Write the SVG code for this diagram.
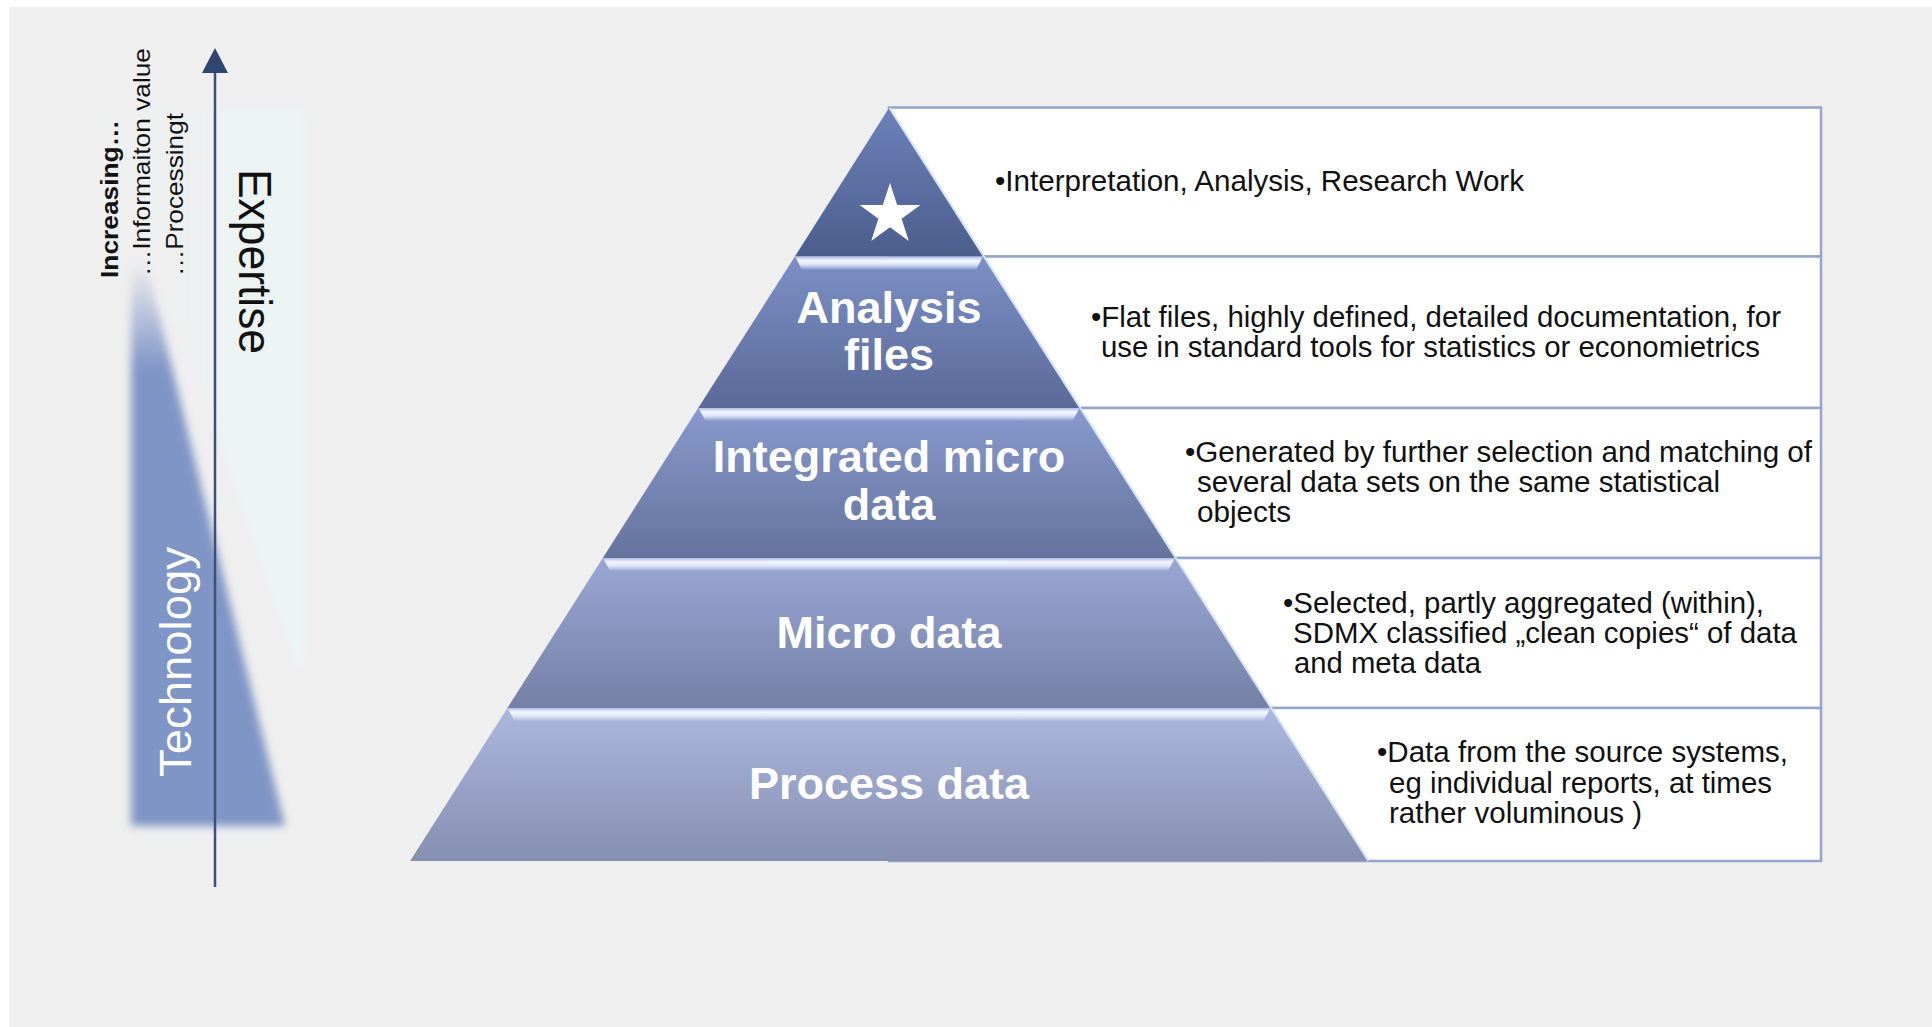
<svg xmlns="http://www.w3.org/2000/svg" width="1932" height="1027" viewBox="0 0 1932 1027">
  <defs>
    <style>
      .t { font-family: "Liberation Sans", Arial, sans-serif; }
      .box { fill: #ffffff; stroke: #93a5cd; stroke-width: 2.5; }
      .btxt { font-family: "Liberation Sans", Arial, sans-serif; font-size: 29px; fill: #111111; }
      .lbl { font-family: "Liberation Sans", Arial, sans-serif; font-size: 45px; font-weight: bold; fill: #ffffff; text-anchor: middle; }
      .side { font-family: "Liberation Sans", Arial, sans-serif; font-size: 24px; fill: #111111; }
    </style>
    <linearGradient id="g1" x1="0" y1="0" x2="0" y2="1"><stop offset="0" stop-color="#6c81ba"/><stop offset="1" stop-color="#4b5e8c"/></linearGradient>
    <linearGradient id="g2" x1="0" y1="0" x2="0" y2="1"><stop offset="0" stop-color="#7c90c6"/><stop offset="1" stop-color="#5a6a98"/></linearGradient>
    <linearGradient id="g3" x1="0" y1="0" x2="0" y2="1"><stop offset="0" stop-color="#8799cd"/><stop offset="1" stop-color="#65749d"/></linearGradient>
    <linearGradient id="g4" x1="0" y1="0" x2="0" y2="1"><stop offset="0" stop-color="#99a7d5"/><stop offset="1" stop-color="#7480a5"/></linearGradient>
    <linearGradient id="g5" x1="0" y1="0" x2="0" y2="1"><stop offset="0" stop-color="#abb7de"/><stop offset="1" stop-color="#858fb0"/></linearGradient>
    <linearGradient id="bev" x1="0" y1="0" x2="0" y2="1">
      <stop offset="0" stop-color="#a9bbe6"/>
      <stop offset="0.3" stop-color="#f3f7ff"/>
      <stop offset="0.55" stop-color="#e1e9fa"/>
      <stop offset="1" stop-color="#ffffff" stop-opacity="0"/>
    </linearGradient>
    <linearGradient id="techFade" gradientUnits="userSpaceOnUse" x1="0" y1="262" x2="0" y2="370">
      <stop offset="0" stop-color="#7f95c6" stop-opacity="0"/>
      <stop offset="1" stop-color="#7f95c6" stop-opacity="1"/>
    </linearGradient>
    <linearGradient id="expFade" gradientUnits="userSpaceOnUse" x1="100" y1="0" x2="216" y2="0">
      <stop offset="0" stop-color="#ebf3f3" stop-opacity="0.2"/>
      <stop offset="0.97" stop-color="#ebf3f3" stop-opacity="0.4"/>
      <stop offset="1" stop-color="#ebf3f3" stop-opacity="1"/>
    </linearGradient>
    <filter id="blur" x="-30%" y="-10%" width="160%" height="120%">
      <feGaussianBlur stdDeviation="4"/>
    </filter>
    <filter id="soft" x="-10%" y="-5%" width="120%" height="110%">
      <feGaussianBlur stdDeviation="2"/>
    </filter>
  </defs>

  <!-- background -->
  <rect x="0" y="0" width="1932" height="1027" fill="#ffffff"/>
  <rect x="9" y="7" width="1923" height="1020" fill="#efefef"/>

  <!-- left side scale -->
  <g id="expertise-band">
    <path d="M104,108 L295,108 Q305,108 305,118 L305,652 Q305,672 296,666 Z" fill="url(#expFade)" filter="url(#soft)"/>
    <text class="t" transform="translate(239,169) rotate(90)" font-size="46" fill="#111111" textLength="185" lengthAdjust="spacingAndGlyphs">Expertise</text>
  </g>

  <g id="technology-band">
    <polygon points="131,230 138,230 285,826 131,826" fill="url(#techFade)" filter="url(#blur)"/>
    <text class="t" transform="translate(191,777) rotate(-90)" font-size="45" fill="#ffffff" textLength="230" lengthAdjust="spacingAndGlyphs">Technology</text>
  </g>

  <g id="increasing-labels">
    <text class="side" font-weight="bold" transform="translate(118,278) rotate(-90)" textLength="158" lengthAdjust="spacingAndGlyphs">Increasing…</text>
    <text class="side" transform="translate(150,276) rotate(-90)" textLength="228" lengthAdjust="spacingAndGlyphs">…Informaiton value</text>
    <text class="side" transform="translate(183,276) rotate(-90)" textLength="163" lengthAdjust="spacingAndGlyphs">…Processingt</text>
  </g>

  <g id="connectors">
    <line x1="215" y1="72" x2="215" y2="887" stroke="#3d5079" stroke-width="2.5"/>
    <polygon points="215,48 202,73 228,73" fill="#2f4670"/>
  </g>

  <!-- description boxes -->
  <g id="box-1">
    <rect class="box" x="889" y="107.5" width="932" height="149"/>
    <text class="btxt" x="995" y="191" textLength="529" lengthAdjust="spacingAndGlyphs">•Interpretation, Analysis, Research Work</text>
  </g>
  <g id="box-2">
    <rect class="box" x="889" y="256.5" width="932" height="151.5"/>
    <text class="btxt" x="1091" y="327" textLength="690" lengthAdjust="spacingAndGlyphs">•Flat files, highly defined, detailed documentation, for</text>
    <text class="btxt" x="1101" y="357" textLength="659" lengthAdjust="spacingAndGlyphs">use in standard tools for statistics or economietrics</text>
  </g>
  <g id="box-3">
    <rect class="box" x="889" y="408" width="932" height="150"/>
    <text class="btxt" x="1185" y="462" textLength="627" lengthAdjust="spacingAndGlyphs">•Generated by further selection and matching of</text>
    <text class="btxt" x="1197" y="492" textLength="523" lengthAdjust="spacingAndGlyphs">several data sets on the same statistical</text>
    <text class="btxt" x="1197" y="522" textLength="94" lengthAdjust="spacingAndGlyphs">objects</text>
  </g>
  <g id="box-4">
    <rect class="box" x="889" y="558" width="932" height="150"/>
    <text class="btxt" x="1283" y="613" textLength="481" lengthAdjust="spacingAndGlyphs">•Selected, partly aggregated (within),</text>
    <text class="btxt" x="1293" y="643" textLength="504" lengthAdjust="spacingAndGlyphs">SDMX classified „clean copies“ of data</text>
    <text class="btxt" x="1294" y="673" textLength="187" lengthAdjust="spacingAndGlyphs">and meta data</text>
  </g>
  <g id="box-5">
    <rect class="box" x="889" y="708" width="932" height="153"/>
    <text class="btxt" x="1377" y="762" textLength="411" lengthAdjust="spacingAndGlyphs">•Data from the source systems,</text>
    <text class="btxt" x="1389" y="793" textLength="383" lengthAdjust="spacingAndGlyphs">eg individual reports, at times</text>
    <text class="btxt" x="1389" y="823" textLength="253" lengthAdjust="spacingAndGlyphs">rather voluminous )</text>
  </g>

  <!-- pyramid tiers -->
  <g id="tier-top">
    <polygon points="889,108 983.1,256.5 794.9,256.5" fill="url(#g1)"/>
    <polygon points="890,183 897.2,205.1 920.4,205.1 901.6,218.8 908.8,240.9 890,227.2 871.2,240.9 878.4,218.8 859.6,205.1 882.8,205.1" fill="#ffffff"/>
  </g>
  <g id="tier-analysis-files">
    <polygon points="794.9,256.5 983.1,256.5 1079.8,408 698.2,408" fill="url(#g2)"/>
    <polygon points="795,256.5 983,256.5 976,270 802,270" fill="url(#bev)"/>
    <text class="lbl" x="889" y="323">Analysis</text>
    <text class="lbl" x="889" y="370">files</text>
  </g>
  <g id="tier-integrated-micro-data">
    <polygon points="698.2,408 1079.8,408 1175.2,558 602.8,558" fill="url(#g3)"/>
    <polygon points="698.5,408 1079.5,408 1072.5,421 705.5,421" fill="url(#bev)"/>
    <text class="lbl" x="889" y="472">Integrated micro</text>
    <text class="lbl" x="889" y="520">data</text>
  </g>
  <g id="tier-micro-data">
    <polygon points="602.8,558 1175.2,558 1270.6,708 507.4,708" fill="url(#g4)"/>
    <polygon points="603,558 1175,558 1168,571 610,571" fill="url(#bev)"/>
    <text class="lbl" x="889" y="648">Micro data</text>
  </g>
  <g id="tier-process-data">
    <polygon points="507.4,708 1270.6,708 1367.9,861 410.1,861" fill="url(#g5)"/>
    <polygon points="507.5,708 1270.5,708 1263.5,721 514.5,721" fill="url(#bev)"/>
    <text class="lbl" x="889" y="799">Process data</text>
  </g>
  <g id="pyramid-edge">
    <line x1="889.5" y1="108" x2="1368.5" y2="861" stroke="#d3e2f7" stroke-width="2"/>
  </g>
</svg>
